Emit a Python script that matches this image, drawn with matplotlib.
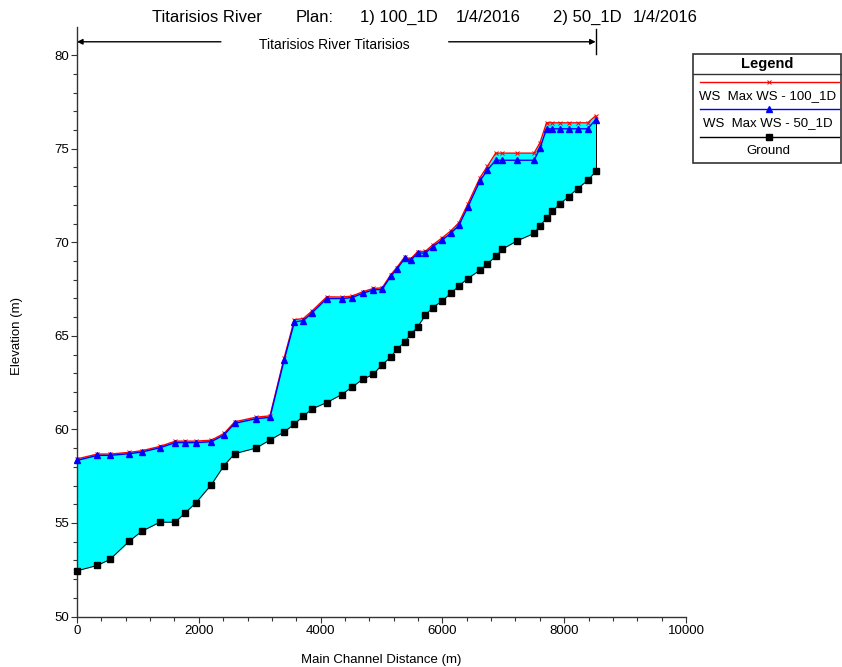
import matplotlib
matplotlib.use('Agg')
import matplotlib.pyplot as plt
from matplotlib.lines import Line2D
from matplotlib.patches import Rectangle

plt.rcParams['font.family'] = ['Liberation Sans', 'DejaVu Sans']

# river stations (m)
station = [0, 334, 542, 859, 1067, 1363, 1614, 1778, 1954, 2205,
           2414, 2589, 2939, 3169, 3400, 3570, 3716, 3864, 4100, 4346,
           4516, 4691, 4866, 5010, 5151, 5250, 5381, 5480, 5594, 5719,
           5841, 5988, 6136, 6270, 6415, 6617, 6737, 6875, 6984, 7225,
           7505, 7603, 7710, 7805, 7931, 8074, 8222, 8386, 8517]

ground = [52.44, 52.73, 53.05, 54.03, 54.56, 55.04, 55.04, 55.54, 56.08, 57.04,
          58.06, 58.70, 59.00, 59.43, 59.86, 60.28, 60.71, 61.10, 61.43, 61.86,
          62.26, 62.67, 62.94, 63.46, 63.85, 64.28, 64.67, 65.08, 65.47, 66.10,
          66.51, 66.84, 67.26, 67.66, 68.06, 68.50, 68.84, 69.24, 69.63, 70.07,
          70.47, 70.89, 71.27, 71.65, 72.05, 72.44, 72.87, 73.30, 73.78]

ws_100 = [58.42, 58.68, 58.68, 58.77, 58.86, 59.09, 59.37, 59.37, 59.37, 59.42,
          59.78, 60.40, 60.65, 60.72, 63.80, 65.86, 65.92, 66.34, 67.08, 67.07,
          67.12, 67.35, 67.53, 67.56, 68.26, 68.64, 69.21, 69.11, 69.50, 69.51,
          69.86, 70.21, 70.60, 71.04, 72.03, 73.45, 74.05, 74.76, 74.76, 74.76,
          74.76, 75.32, 76.38, 76.38, 76.38, 76.38, 76.38, 76.38, 76.76]

ws_50 = [58.34, 58.61, 58.61, 58.70, 58.79, 59.02, 59.29, 59.29, 59.29, 59.34,
         59.70, 60.32, 60.57, 60.64, 63.69, 65.74, 65.81, 66.24, 66.99, 66.99,
         67.04, 67.27, 67.45, 67.48, 68.18, 68.56, 69.13, 69.03, 69.42, 69.42,
         69.76, 70.10, 70.47, 70.90, 71.87, 73.28, 73.85, 74.38, 74.38, 74.38,
         74.38, 75.03, 76.06, 76.06, 76.06, 76.06, 76.06, 76.06, 76.55]

title_parts = ['Titarisios River', 'Plan:', '1) 100_1D', '1/4/2016', '2) 50_1D', '1/4/2016']
reach_name = 'Titarisios River Titarisios'
legend_labels = ['WS  Max WS - 100_1D', 'WS  Max WS - 50_1D', 'Ground']

W, H = 842, 667


def fx(px):
    return px / W


def fy(py):
    return 1 - py / H


fig = plt.figure(figsize=(W / 100, H / 100), dpi=100)
ax = fig.add_axes([fx(77), fy(616.5), fx(686) - fx(77), fy(27) - fy(616.5)])

ax.fill_between(station, ground, ws_100, color='#00FFFF', lw=0, zorder=1)
ax.plot(station, ground, color='black', lw=0.7, marker='s', ms=5, zorder=3, clip_on=False)
ax.plot([station[-1], station[-1]], [ground[-1], ws_50[-1]], color='black', lw=0.7, zorder=2)
ax.plot(station, ws_100, color='#FF0000', lw=1.0, marker='x', ms=3.5, mew=0.7, zorder=4, clip_on=False)
ax.plot(station, ws_50, color='#0000FF', lw=1.0, marker='^', ms=5, zorder=5, clip_on=False)

ax.set_xlim(0, 10000)
ax.set_ylim(50, 81.5)
ax.set_xticks(range(0, 10001, 2000))
ax.set_xticks(range(0, 10001, 400), minor=True)
ax.set_yticks(range(50, 81, 5))
ax.set_yticks(range(50, 81), minor=True)
ax.tick_params(which='major', length=4, width=0.8, labelsize=9.5, pad=2, color='#333333')
ax.tick_params(which='minor', length=3, width=0.8, color='#333333')
for s in ['top', 'right']:
    ax.spines[s].set_visible(False)
for s in ['left', 'bottom']:
    ax.spines[s].set_linewidth(1.0)
    ax.spines[s].set_color('#333333')

ax.set_xlabel('Main Channel Distance (m)', fontsize=9.5, labelpad=12)
ax.set_ylabel('Elevation (m)', fontsize=9.5)
ax.yaxis.set_label_coords(-0.088, 0.476)

# reach marker above the profile
reach_y = 80.71
ax.text(4230, reach_y - 0.15, reach_name, fontsize=10, ha='center', va='center')
ax.annotate('', xy=(station[0], reach_y), xytext=(2363, reach_y),
            arrowprops=dict(arrowstyle='-|>', color='black', lw=1.0, mutation_scale=8,
                            shrinkA=0, shrinkB=0), annotation_clip=False)
ax.annotate('', xy=(station[-1], reach_y), xytext=(6103, reach_y),
            arrowprops=dict(arrowstyle='-|>', color='black', lw=1.0, mutation_scale=8,
                            shrinkA=0, shrinkB=0), annotation_clip=False)
ax.plot([station[-1], station[-1]], [80.06, 81.4], color='black', lw=1.0, clip_on=False)

# title pieces
for px, txt in zip([152, 296, 360, 456, 553, 633], title_parts):
    fig.text(fx(px), fy(17), txt, fontsize=12, ha='left', va='center')

# legend box drawn by hand
fig.add_artist(Rectangle((fx(692.7), fy(162.7)), fx(841) - fx(692.7), fy(54.3) - fy(162.7),
                         transform=fig.transFigure, fill=False, ec='#333333', lw=1.2))
fig.add_artist(Line2D([fx(692.7), fx(841)], [fy(74), fy(74)], color='#333333', lw=1.0))
fig.text(fx(767), fy(64), 'Legend', fontsize=10.5, fontweight='bold', ha='center', va='center')

leg_styles = [dict(color='#FF0000', marker='x', ms=3.5, mew=0.7),
              dict(color='#0000FF', marker='^', ms=5),
              dict(color='black', marker='s', ms=5)]
for i, (lab, st) in enumerate(zip(legend_labels, leg_styles)):
    ly = 81.7 + i * 27.5
    fig.add_artist(Line2D([fx(700), fx(839)], [fy(ly), fy(ly)], lw=1.0, color=st['color']))
    fig.add_artist(Line2D([fx(769)], [fy(ly)], lw=0, **st))
    fig.text(fx(768), fy(ly + 14), lab, fontsize=9.5, ha='center', va='center')

fig.savefig('out.png', dpi=100)
